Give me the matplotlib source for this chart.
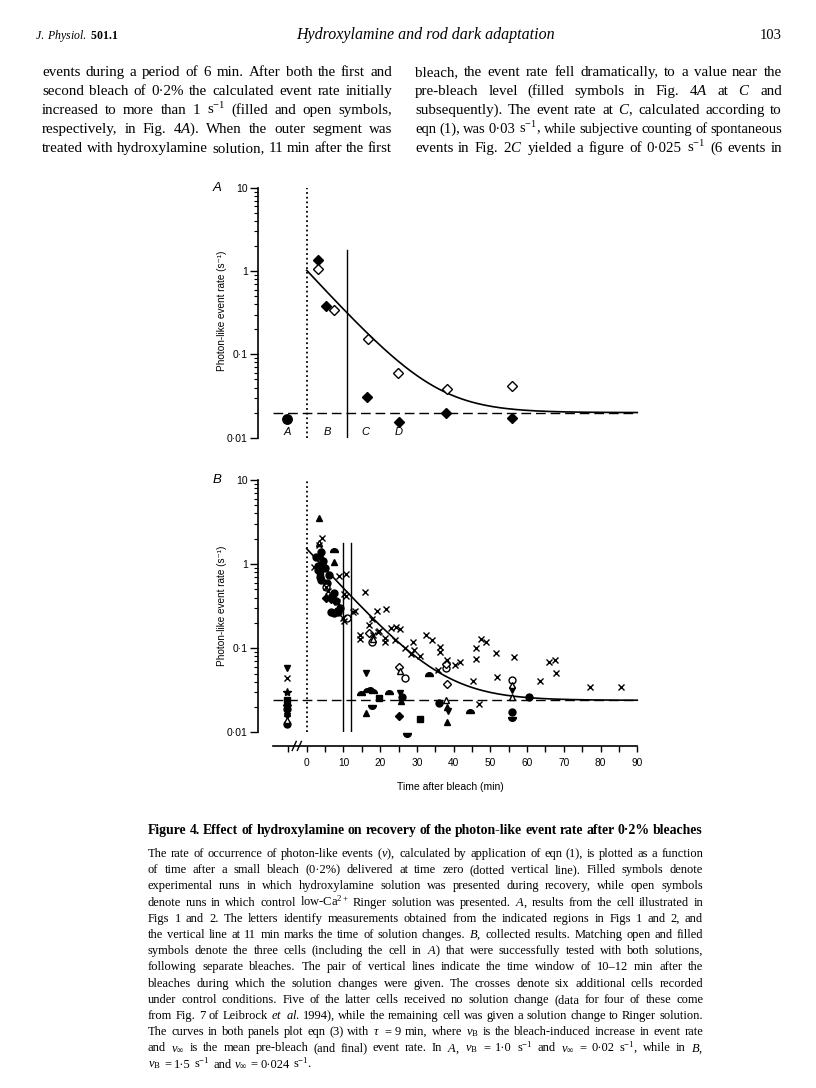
import matplotlib
matplotlib.use('Agg')
import numpy as np
import matplotlib.pyplot as plt
from matplotlib.path import Path
from matplotlib.transforms import ScaledTranslation
from matplotlib.ticker import FixedLocator, NullFormatter

plt.rcParams['mathtext.fontset'] = 'custom'
plt.rcParams['mathtext.rm'] = 'Liberation Serif'
plt.rcParams['mathtext.it'] = 'Liberation Serif:italic'
plt.rcParams['mathtext.bf'] = 'Liberation Serif:bold'
SANS = 'Liberation Sans'
SERIF = 'Liberation Serif'

# ---- panel A data (time in min, rate in s^-1) ----
a_fill_t = [3.2, 5.3, 16.3, 25.1, 37.9, 55.9]
a_fill_y = [1.35, 0.378, 0.031, 0.0156, 0.020, 0.017]
a_open_t = [3.2, 7.3, 16.6, 24.9, 38.1, 56.0]
a_open_y = [1.07, 0.343, 0.155, 0.060, 0.038, 0.042]
a_pre_t = [-5.3]
a_pre_y = [0.0167]
a_letters = ['A', 'B', 'C', 'D']
a_letter_t = [-5.3, 5.7, 16.1, 25.1]
a_nuB, a_nuinf = 1.0, 0.02

# ---- panel B data ----
b_cross_t = [-5.3, 2.0, 3.3, 4.1, 5.3, 5.8, 8.2, 8.8, 10.6, 10.2, 10.6, 9.8, 10.2, 12.5, 13.2,
             16.0, 19.1, 21.6, 14.5, 14.6, 17.0, 17.8, 18.1, 19.7, 19.5, 21.4, 21.4, 22.9,
             24.4, 25.5, 24.1, 26.8, 28.3, 28.9, 29.2, 30.8, 32.5, 34.1, 36.3, 36.2, 35.8,
             38.1, 40.4, 41.7, 46.2, 46.2, 47.5, 48.9, 51.4, 56.5, 66.0, 67.5, 45.3, 51.8,
             63.4, 68.0, 77.0, 85.6, 46.8]
b_cross_y = [0.044, 0.93, 1.7, 2.04, 0.54, 0.48, 0.35, 0.73, 0.77, 0.44, 0.42, 0.23, 0.21, 0.27, 0.28,
             0.46, 0.28, 0.29, 0.144, 0.13, 0.19, 0.22, 0.145, 0.16, 0.154, 0.131, 0.117, 0.175,
             0.18, 0.17, 0.125, 0.10, 0.0855, 0.118, 0.094, 0.081, 0.144, 0.126, 0.103, 0.089, 0.055,
             0.073, 0.063, 0.069, 0.10, 0.075, 0.128, 0.12, 0.088, 0.078, 0.068, 0.072, 0.041, 0.046,
             0.041, 0.051, 0.035, 0.035, 0.0215]

b_circ_t = [2.5, 3.0, 3.5, 4.0, 4.5, 5.0, 6.0, 7.3, 6.8, 5.5, 8.0, 6.5, 7.5, 8.5, 9.2, 4.0, 3.2,
            -5.3, -5.3, 25.9, 35.9, 55.9, 60.5]
b_circ_y = [1.2, 0.85, 0.7, 0.65, 1.1, 0.9, 0.75, 0.45, 0.42, 0.6, 0.36, 0.27, 0.26, 0.27, 0.30, 1.4, 0.95,
            0.019, 0.0127, 0.0266, 0.0221, 0.0173, 0.026]
b_tri_t = [3.4, 7.3, 4.0, 16.1, 25.6, 38.2, 38.2, -5.3]
b_tri_y = [3.5, 1.07, 1.25, 0.017, 0.0237, 0.0134, 0.020, 0.017]
b_dtri_t = [-5.3, 16.2, 25.3, 38.6, 55.9, -5.3]
b_dtri_y = [0.058, 0.051, 0.0297, 0.0179, 0.0319, 0.0155]
b_dia_t = [5.3, 6.5, 4.5, 25.2, -5.3]
b_dia_y = [0.40, 0.38, 0.95, 0.0158, 0.021]
b_sq_t = [19.7, 30.9, -5.3, 8.5, 3.5]
b_sq_y = [0.0254, 0.0144, 0.024, 0.28, 0.80]
b_dome_t = [7.3, 14.8, 16.3, 17.2, 18.0, 22.5, 33.2, 44.5]
b_dome_y = [1.38, 0.028, 0.0305, 0.031, 0.029, 0.0284, 0.047, 0.0168]
b_bowl_t = [17.7, 27.3, 55.9]
b_bowl_y = [0.021, 0.0099, 0.0154]
b_star_t = [-5.3]
b_star_y = [0.030]

b_ocirc_t = [5.3, 10.9, 17.7, 26.8, 38.0, 56.0]
b_ocirc_y = [0.53, 0.23, 0.12, 0.044, 0.058, 0.042]
b_odia_t = [17.0, 25.0, 38.2, 38.0]
b_odia_y = [0.15, 0.0605, 0.038, 0.065]
b_otri_t = [3.4, 18.0, 25.3, 38.0, 56.0, 56.0, -5.3]
b_otri_y = [1.8, 0.13, 0.054, 0.0243, 0.0365, 0.0266, 0.014]
b_nuB, b_nuinf = 1.5, 0.024

tau = 9.0  # min, eqn (3)
x_ticks = [0, 10, 20, 30, 40, 50, 60, 70, 80, 90]
y_ticks = [0.01, 0.1, 1, 10]
y_ticklabels = ['0·01', '0·1', '1', '10']

W, H = 816, 1088
fig = plt.figure(figsize=(W / 100, H / 100), dpi=100)


def fx(px):
    return px / W


def fy(py):
    return 1 - py / H


renderer = fig.canvas.get_renderer()


def put_line(x0, x1, y, line, size, justify=True, **kw):
    # lay out one line of words, spread to the column width
    words = line.split(' ')
    texts = [fig.text(0, fy(y), w, fontsize=size, va='baseline', ha='left', **kw) for w in words]
    widths = [t.get_window_extent(renderer).width for t in texts]
    min_gap = size * 0.2 * 100 / 72
    if sum(widths) + min_gap * (len(words) - 1) > x1 - x0:
        k = (x1 - x0 - min_gap * (len(words) - 1)) / sum(widths)
        for t in texts:
            t.set_fontsize(size * k)
        widths = [t.get_window_extent(renderer).width for t in texts]
    if justify and len(words) > 1:
        gap = (x1 - x0 - sum(widths)) / (len(words) - 1)
    else:
        gap = size * 0.25 * 100 / 72
    x = x0
    for t, w in zip(texts, widths):
        t.set_x(fx(x))
        x += w + gap


# ---- page header and running text ----
fig.text(fx(35), fy(39), r'$\mathit{J.\ Physiol.}$ $\mathbf{501.1}$', fontsize=8.5, family=SERIF)
fig.text(fx(425), fy(39), 'Hydroxylamine and rod dark adaptation', fontsize=11.5, family=SERIF,
         style='italic', ha='center')
fig.text(fx(782), fy(39), '103', fontsize=10.5, family=SERIF, ha='right')

col1 = ['events during a period of 6 min. After both the first and',
        'second bleach of 0·2% the calculated event rate initially',
        r'increased to more than 1 s$^{-1}$ (filled and open symbols,',
        r'respectively, in Fig. 4$\mathit{A}$). When the outer segment was',
        'treated with hydroxylamine solution, 11 min after the first']
col2 = ['bleach, the event rate fell dramatically, to a value near the',
        r'pre-bleach level (filled symbols in Fig. 4$\mathit{A}$ at $\mathit{C}$ and',
        r'subsequently). The event rate at $\mathit{C}$, calculated according to',
        r'eqn (1), was 0·03 s$^{-1}$, while subjective counting of spontaneous',
        r'events in Fig. 2$\mathit{C}$ yielded a figure of 0·025 s$^{-1}$ (6 events in']
for i, line in enumerate(col1):
    put_line(42, 392, 76 + 19 * i, line, 10.8, family=SERIF)
for i, line in enumerate(col2):
    put_line(415, 782, 76 + 19 * i, line, 10.8, family=SERIF)

# ---- caption ----
put_line(148, 703, 834, 'Figure 4. Effect of hydroxylamine on recovery of the photon-like event rate after 0·2% bleaches',
         10.0, family=SERIF, weight='bold')
caption = [
    r'The rate of occurrence of photon-like events ($\nu$), calculated by application of eqn (1), is plotted as a function',
    r'of time after a small bleach (0·2%) delivered at time zero (dotted vertical line). Filled symbols denote',
    r'experimental runs in which hydroxylamine solution was presented during recovery, while open symbols',
    r'denote runs in which control low-Ca$^{2+}$ Ringer solution was presented. $\mathit{A}$, results from the cell illustrated in',
    r'Figs 1 and 2. The letters identify measurements obtained from the indicated regions in Figs 1 and 2, and',
    r'the vertical line at 11 min marks the time of solution changes. $\mathit{B}$, collected results. Matching open and filled',
    r'symbols denote the three cells (including the cell in $\mathit{A}$) that were successfully tested with both solutions,',
    r'following separate bleaches. The pair of vertical lines indicate the time window of 10–12 min after the',
    r'bleaches during which the solution changes were given. The crosses denote six additional cells recorded',
    r'under control conditions. Five of the latter cells received no solution change (data for four of these come',
    r'from Fig. 7 of Leibrock $\mathit{et}$ $\mathit{al.}$ 1994), while the remaining cell was given a solution change to Ringer solution.',
    r'The curves in both panels plot eqn (3) with $\tau$ = 9 min, where $\nu_{\mathrm{B}}$ is the bleach-induced increase in event rate',
    r'and $\nu_{\infty}$ is the mean pre-bleach (and final) event rate. In $\mathit{A}$, $\nu_{\mathrm{B}}$ = 1·0 s$^{-1}$ and $\nu_{\infty}$ = 0·02 s$^{-1}$, while in $\mathit{B}$,',
    r'$\nu_{\mathrm{B}}$ = 1·5 s$^{-1}$ and $\nu_{\infty}$ = 0·024 s$^{-1}$.']
for i, line in enumerate(caption):
    put_line(148, 703, 857 + 16.2 * i, line, 9.0, justify=(i < len(caption) - 1), family=SERIF)

# ---- plotting helpers ----
dome = Path.wedge(0, 180)
bowl = Path.wedge(180, 360)
x_lo, x_hi = -13.26, 92.1
ax_left, ax_right = 258, 645


def style_yaxis(ax):
    ax.set_yscale('log')
    ax.set_ylim(0.01, 10)
    ax.set_xlim(x_lo, x_hi)
    ax.yaxis.set_major_locator(FixedLocator(y_ticks))
    ax.set_yticklabels(y_ticklabels, family=SANS, fontsize=7.5)
    minors = [m * d for d in (0.01, 0.1, 1) for m in range(2, 10)]
    ax.yaxis.set_minor_locator(FixedLocator(minors))
    ax.yaxis.set_minor_formatter(NullFormatter())
    ax.tick_params(axis='y', which='major', direction='out', length=6, width=1, pad=1.5)
    ax.tick_params(axis='y', which='minor', direction='out', length=3, width=0.8)
    ax.spines['left'].set_linewidth(1.2)
    ax.spines['top'].set_visible(False)
    ax.spines['right'].set_visible(False)
    ax.patch.set_alpha(0)
    ax.set_ylabel('Photon-like event rate (s⁻¹)', family=['Liberation Sans', 'DejaVu Sans'],
                  fontsize=7.2, va='center')


def model(t, nu_b, nu_inf):
    return nu_b * np.exp(-np.asarray(t) / tau) + nu_inf


curve_t = np.linspace(0, 90, 181)

# ---- panel A ----
axA = fig.add_axes([fx(ax_left), fy(437.7), (ax_right - ax_left) / W, (437.7 - 187.7) / H])
style_yaxis(axA)
axA.spines['bottom'].set_visible(False)
axA.set_xticks([])
axA.yaxis.set_label_coords((222 - ax_left) / (ax_right - ax_left), (437.7 - 311) / 250)
axA.plot([0, 0], [0.01, 10], color='black', lw=1.3, ls=(0, (1, 1.6)))
axA.plot([11, 11], [0.01, 1.8], color='black', lw=1.0)
axA.plot([-9.3, 90], [a_nuinf, a_nuinf], color='black', lw=1.0, dashes=(7, 3.5))
axA.plot(curve_t, model(curve_t, a_nuB, a_nuinf), color='black', lw=1.2)
axA.plot(a_pre_t, a_pre_y, 'o', color='black', ms=6.8)
axA.plot(a_fill_t, a_fill_y, 'D', color='black', ms=5.3)
axA.plot(a_open_t, a_open_y, 'D', mfc='white', mec='black', mew=1, ms=5.3)
for lab, t in zip(a_letters, a_letter_t):
    axA.text(t, 0.0118, lab, family=SANS, style='italic', fontsize=8, ha='center', va='center')
fig.text(fx(213), fy(188), 'A', family=SANS, style='italic', fontsize=9.5, va='center')

# ---- panel B ----
axB = fig.add_axes([fx(ax_left), fy(732.3), (ax_right - ax_left) / W, (732.3 - 480) / H])
style_yaxis(axB)
axB.yaxis.set_label_coords((222 - ax_left) / (ax_right - ax_left), (732.3 - 606) / 252.3)
axB.spines['bottom'].set_position(('outward', 9.8))
axB.spines['bottom'].set_bounds(-9.1, 90)
axB.spines['bottom'].set_linewidth(1.2)
axB.set_xticks(x_ticks)
axB.set_xticklabels([str(v) for v in x_ticks], family=SANS, fontsize=7.3)
axB.xaxis.set_minor_locator(FixedLocator([-5] + [v + 5 for v in x_ticks[:-1]]))
axB.tick_params(axis='x', which='both', direction='out', length=4, width=1, pad=5)
fig.text(fx(450), fy(787), 'Time after bleach (min)', family=SANS, fontsize=7.5, ha='center', va='center')

brk = axB.get_xaxis_transform() + ScaledTranslation(0, -9.8 / 72, fig.dpi_scale_trans)
axB.plot([-3.2, -2.2], [0, 0], color='white', lw=2.5, transform=brk, clip_on=False, solid_capstyle='butt')
for bt in (-3.4, -2.0):
    axB.plot([bt - 0.55, bt + 0.55], [-4.5 / 252.3, 4.5 / 252.3], color='black', lw=1,
             transform=brk, clip_on=False)

axB.plot([0, 0], [0.01, 10], color='black', lw=1.3, ls=(0, (1, 1.6)))
axB.plot([10, 10], [0.01, 1.8], color='black', lw=1.0)
axB.plot([12, 12], [0.01, 1.8], color='black', lw=1.0)
axB.plot([-9.3, 90], [b_nuinf, b_nuinf], color='black', lw=1.0, dashes=(7, 3.5))
axB.plot(curve_t, model(curve_t, b_nuB, b_nuinf), color='black', lw=1.2)

ms = 5
kw = dict(ls='none', clip_on=False)
axB.plot(b_circ_t, b_circ_y, marker='o', color='black', ms=ms, **kw)
axB.plot(b_tri_t, b_tri_y, marker='^', color='black', ms=ms, **kw)
axB.plot(b_dtri_t, b_dtri_y, marker='v', color='black', ms=ms, **kw)
axB.plot(b_dia_t, b_dia_y, marker='D', color='black', ms=4.3, **kw)
axB.plot(b_sq_t, b_sq_y, marker='s', color='black', ms=4.5, **kw)
axB.plot(b_dome_t, b_dome_y, marker=dome, color='black', ms=5.5, **kw)
axB.plot(b_bowl_t, b_bowl_y, marker=bowl, color='black', ms=5.5, **kw)
axB.plot(b_star_t, b_star_y, marker='*', color='black', ms=6, **kw)
axB.plot(b_ocirc_t, b_ocirc_y, marker='o', mfc='white', mec='black', mew=1, ms=ms, **kw)
axB.plot(b_odia_t, b_odia_y, marker='D', mfc='white', mec='black', mew=1, ms=4.3, **kw)
axB.plot(b_otri_t, b_otri_y, marker='^', mfc='white', mec='black', mew=1, ms=ms, **kw)
axB.plot(b_cross_t, b_cross_y, marker='x', color='black', ms=4.5, mew=1, **kw)
fig.text(fx(213), fy(480), 'B', family=SANS, style='italic', fontsize=9.5, va='center')

fig.savefig('out.png', dpi=100, facecolor='white')
